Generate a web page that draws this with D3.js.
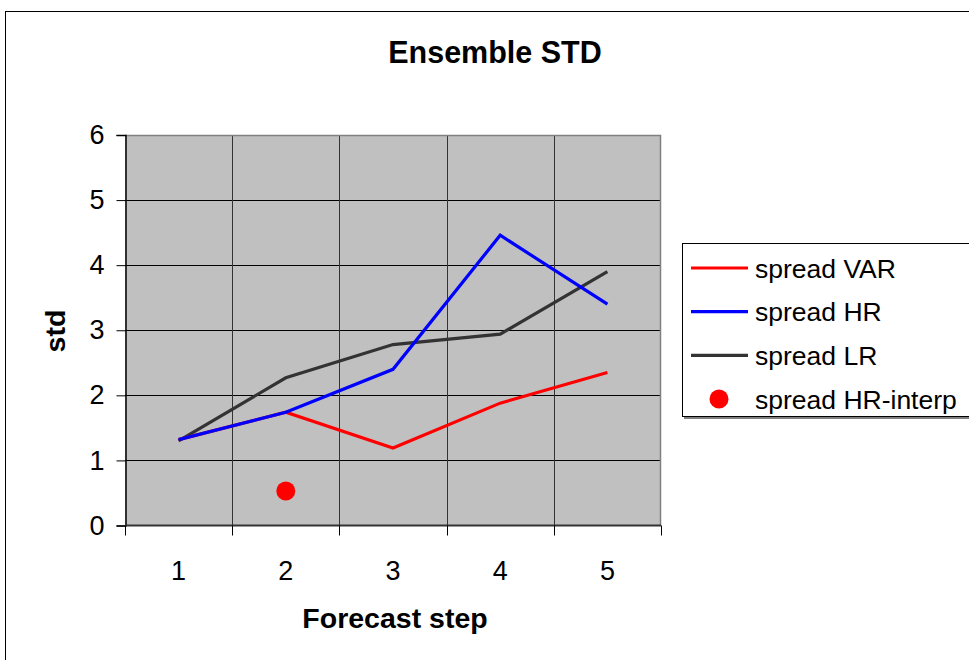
<!DOCTYPE html>
<html>
<head>
<meta charset="utf-8">
<script src="https://cdn.jsdelivr.net/npm/d3@7"></script>
<style>
  html, body { margin: 0; padding: 0; background: #fff; }
  svg { display: block; font-family: "Liberation Sans", Arial, sans-serif; }
</style>
</head>
<body>
<svg id="chart" width="969" height="660"></svg>
<script>
// Forecast steps along the x axis
const steps = ["1", "2", "3", "4", "5"];
// Ensemble spread per forecast step
const spreadVAR = [1.32, 1.74, 1.19, 1.88, 2.35];
const spreadHR  = [1.32, 1.74, 2.40, 4.46, 3.40];
const spreadLR  = [1.30, 2.27, 2.78, 2.94, 3.90];
// Single interpolated HR value
const interpStep = ["2"];
const interpValue = [0.53];
// Axis ticks
const yTicks = [0, 1, 2, 3, 4, 5, 6];
const seriesNames = ["spread VAR", "spread HR", "spread LR", "spread HR-interp"];
const seriesColors = ["#ff0000", "#0000ff", "#333333", "#ff0000"];

const svg = d3.select("#chart");
const plot = { left: 125, right: 661, top: 135, bottom: 525.5 };

const x = d3.scaleBand().domain(steps).range([plot.left, plot.right]).padding(0);
const y = d3.scaleLinear().domain([0, 6]).range([plot.bottom, plot.top]);

// Outer chart frame
svg.append("rect")
  .attr("x", 5.5).attr("y", 11.5).attr("width", 1000).attr("height", 700)
  .attr("fill", "#fff").attr("stroke", "#000").attr("stroke-width", 1);

// Title
svg.append("text")
  .attr("x", 495).attr("y", 63)
  .attr("text-anchor", "middle")
  .attr("font-size", 30.5).attr("font-weight", "bold")
  .text("Ensemble STD");

// Plot background
svg.append("rect")
  .attr("x", plot.left).attr("y", plot.top)
  .attr("width", plot.right - plot.left).attr("height", plot.bottom - plot.top)
  .attr("fill", "#c0c0c0");

// Horizontal gridlines
svg.append("g")
  .selectAll("line")
  .data(yTicks.filter(d => d > 0 && d < 6))
  .join("line")
  .attr("x1", plot.left).attr("x2", plot.right)
  .attr("y1", d => Math.round(y(d)) + 0.5).attr("y2", d => Math.round(y(d)) + 0.5)
  .attr("stroke", "#000").attr("stroke-width", 1);

// Vertical gridlines on category boundaries
svg.append("g")
  .selectAll("line")
  .data(steps.slice(1))
  .join("line")
  .attr("x1", d => Math.round(x(d)) + 0.5).attr("x2", d => Math.round(x(d)) + 0.5)
  .attr("y1", plot.top).attr("y2", plot.bottom)
  .attr("stroke", "#333").attr("stroke-width", 1);

// Plot border: grey top/right
svg.append("path")
  .attr("d", `M${plot.left},${plot.top + 0.5}H${plot.right - 0.5}V${plot.bottom}`)
  .attr("fill", "none").attr("stroke", "#808080").attr("stroke-width", 1.5);

// Y axis
const yAxis = d3.axisLeft(y).tickValues(yTicks).tickSize(9).tickPadding(12).tickFormat(d3.format("d"));
const gy = svg.append("g").attr("transform", `translate(${plot.left + 0.5},0)`).call(yAxis);
gy.select(".domain").attr("stroke", "#000").attr("stroke-width", 1.5);
gy.selectAll(".tick line").attr("stroke", "#000");
gy.selectAll(".tick text")
  .attr("font-family", "Liberation Sans, Arial, sans-serif")
  .attr("font-size", 27).attr("fill", "#000");

// X axis: tick marks on category boundaries, labels at category centres
const gx = svg.append("g").attr("transform", `translate(0,${plot.bottom})`);
gx.append("line")
  .attr("x1", plot.left).attr("x2", plot.right)
  .attr("stroke", "#333").attr("stroke-width", 2);
const boundaries = steps.map(s => x(s)).concat([x(steps[steps.length - 1]) + x.bandwidth()]);
gx.selectAll("line.tk")
  .data(boundaries)
  .join("line").attr("class", "tk")
  .attr("x1", d => Math.round(d) + 0.5).attr("x2", d => Math.round(d) + 0.5)
  .attr("y1", 0).attr("y2", 10)
  .attr("stroke", "#000").attr("stroke-width", 1);
gx.selectAll("text")
  .data(steps)
  .join("text")
  .attr("x", d => x(d) + x.bandwidth() / 2)
  .attr("y", 54)
  .attr("text-anchor", "middle")
  .attr("font-size", 27)
  .text(d => d);

// Axis titles
svg.append("text")
  .attr("x", 395).attr("y", 628)
  .attr("text-anchor", "middle")
  .attr("font-size", 28.5).attr("font-weight", "bold")
  .text("Forecast step");
svg.append("text")
  .attr("transform", "translate(65,331) rotate(-90)")
  .attr("text-anchor", "middle")
  .attr("font-size", 28.5).attr("font-weight", "bold")
  .text("std");

// Series lines (HR drawn last so it sits on top where it overlaps VAR)
const line = d3.line()
  .x((d, i) => x(steps[i]) + x.bandwidth() / 2)
  .y(d => y(d));
[[spreadLR, seriesColors[2]], [spreadVAR, seriesColors[0]], [spreadHR, seriesColors[1]]].forEach(([vals, col]) => {
  svg.append("path")
    .datum(vals)
    .attr("d", line)
    .attr("fill", "none")
    .attr("stroke", col)
    .attr("stroke-width", 3.2)
    .attr("stroke-linejoin", "miter");
});

// Interpolated point
svg.selectAll("circle.interp")
  .data(interpValue)
  .join("circle").attr("class", "interp")
  .attr("cx", (d, i) => x(interpStep[i]) + x.bandwidth() / 2)
  .attr("cy", d => y(d))
  .attr("r", 9.5)
  .attr("fill", seriesColors[3]);

// Legend
const lg = svg.append("g");
lg.append("rect")
  .attr("x", 684).attr("y", 245).attr("width", 400).attr("height", 174)
  .attr("fill", "#808080");
lg.append("rect")
  .attr("x", 682.5).attr("y", 243.5).attr("width", 400).attr("height", 173)
  .attr("fill", "#fff").attr("stroke", "#000").attr("stroke-width", 1);
const rowY = d3.scalePoint().domain(seriesNames).range([268, 399]);
seriesNames.forEach((name, i) => {
  const cy = rowY(name);
  if (i < 3) {
    lg.append("line")
      .attr("x1", 691).attr("x2", 748)
      .attr("y1", cy).attr("y2", cy)
      .attr("stroke", seriesColors[i]).attr("stroke-width", 3.2);
  } else {
    lg.append("circle").attr("cx", 719).attr("cy", cy).attr("r", 9.5).attr("fill", seriesColors[i]);
  }
  lg.append("text")
    .attr("x", 755).attr("y", cy).attr("dy", "0.36em")
    .attr("font-size", 26.5)
    .text(name);
});
</script>
</body>
</html>
